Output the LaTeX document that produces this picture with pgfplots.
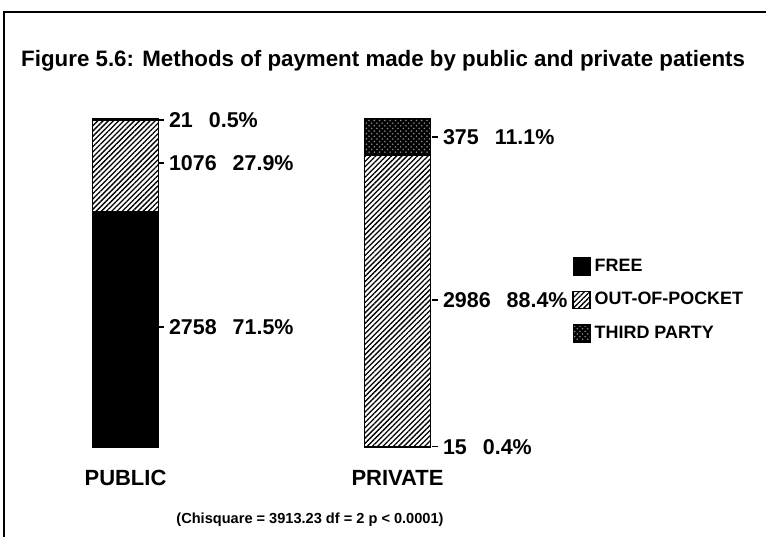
\documentclass[border=0pt]{standalone}
\usepackage{pgfplots}
\pgfplotsset{compat=1.18}
\usepackage{pgfplotstable}
\usepackage{fontspec}
\setmainfont{Liberation Sans}
\usetikzlibrary{patterns,patterns.meta}

% stacked shares (%) per group, bottom to top: free, out-of-pocket, third party
\pgfplotstableread{
x     free  oop   third
65.5  71.5  27.9  0.5
337.5 0.4   88.4  11.1
}\payment

% value labels beside the bars: count and share
\pgfplotstableread{
x    y     lab
101  99.4  {21\hspace{0.32cm}0.5\%}
101  86.4  {1076\hspace{0.32cm}27.9\%}
101  36.7  {2758\hspace{0.32cm}71.5\%}
375  94.2  {375\hspace{0.32cm}11.1\%}
375  44.8  {2986\hspace{0.32cm}88.4\%}
375  0.4   {15\hspace{0.32cm}0.4\%}
}\labels

\pgfplotsset{
  lg/.style={legend image code/.code={\draw[##1,draw=black] (0cm,-0.17cm) rectangle (0.34cm,0.17cm);}},
}

\begin{document}
\begin{tikzpicture}
\path[use as bounding box] (0,0) rectangle (15.32,10.74);
\draw[line width=0.05cm] (0.08,0) -- (0.08,10.5) -- (15.32,10.5);
\node[anchor=west,font=\fontsize{12.7}{14}\selectfont\bfseries] at (0.3,9.52)
  {Figure 5.6: Methods of payment made by public and private patients};

\begin{axis}[
  at={(1.2cm,1.78cm)}, anchor=south west, scale only axis,
  width=14cm, height=6.6cm,
  xmin=0, xmax=700, ymin=0, ymax=100,
  ybar stacked, bar width=1.32cm,
  axis line style={draw=none},
  ytick=\empty, xtick={65.5,337.5}, xticklabels={PUBLIC,PRIVATE},
  major tick length=0pt,
  xticklabel style={font=\fontsize{12.5}{14}\selectfont\bfseries, yshift=-0.32cm},
  legend style={at={(rel axis cs:0.724,0.595)}, anchor=north west,
    draw=none, fill=none, font=\fontsize{10.2}{12}\selectfont\bfseries,
    row sep=6.5pt},
  legend cell align=left,
]
\addplot[lg, fill=black, draw=black, line width=0.8pt] table[y=free] {\payment};
\addplot[lg, fill=white, draw=black, line width=1pt,
  postaction={pattern={Lines[angle=45, distance=2.1pt, line width=0.75pt]}, pattern color=black}]
  table[y=oop] {\payment};
\addplot[lg, fill=black, draw=black, line width=0.8pt,
  postaction={pattern=crosshatch dots, pattern color=white!55!black}] table[y=third] {\payment};
\legend{FREE, OUT-OF-POCKET, THIRD PARTY}
\end{axis}

\begin{axis}[
  at={(1.2cm,1.78cm)}, anchor=south west, scale only axis,
  width=14cm, height=6.6cm,
  xmin=0, xmax=700, ymin=0, ymax=100,
  hide axis, clip=false,
]
\addplot[only marks, mark=-, mark size=0.06cm, mark options={line width=0.8pt},
  point meta=explicit symbolic,
  nodes near coords,
  nodes near coords align=horizontal,
  every node near coord/.append style={anchor=west, xshift=0.03cm,
    font=\fontsize{12.2}{14}\selectfont\bfseries, text=black},
] table[x=x, y=y, meta=lab] {\labels};
\end{axis}

\node[font=\fontsize{8.3}{9}\selectfont\bfseries] at (6.2,0.34)
  {(Chisquare = 3913.23 df = 2 p < 0.0001)};
\end{tikzpicture}
\end{document}
